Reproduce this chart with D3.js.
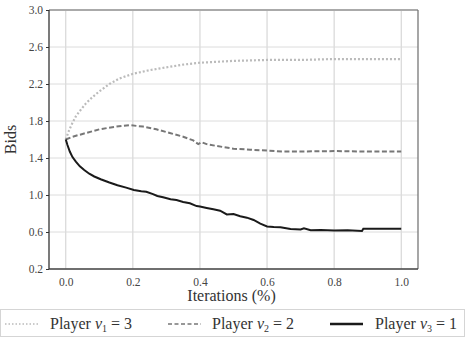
<!DOCTYPE html>
<html>
<head>
<meta charset="utf-8">
<script src="https://cdn.jsdelivr.net/npm/d3@7"></script>
<style>
  body { margin: 0; background: #fff; }
</style>
</head>
<body>
<div id="chart"></div>
<script>
// iterations (fraction) and bids per player
var iterV1 = [0, 0.01, 0.02, 0.03, 0.04, 0.06, 0.08, 0.1, 0.13, 0.16, 0.2, 0.25, 0.3, 0.35, 0.4, 0.45, 0.5, 0.6, 0.7, 0.8, 0.9, 1.0];
var bidsV1 = [1.6, 1.7, 1.78, 1.85, 1.9, 1.99, 2.06, 2.12, 2.2, 2.26, 2.31, 2.35, 2.38, 2.41, 2.43, 2.44, 2.45, 2.46, 2.46, 2.47, 2.47, 2.47];

var iterV2 = [0, 0.02, 0.05, 0.1, 0.15, 0.19, 0.23, 0.27, 0.31, 0.35, 0.38, 0.395, 0.405, 0.42, 0.45, 0.5, 0.55, 0.6, 0.65, 0.7, 0.8, 0.9, 1.0];
var bidsV2 = [1.6, 1.63, 1.66, 1.71, 1.74, 1.755, 1.74, 1.71, 1.67, 1.63, 1.59, 1.55, 1.57, 1.55, 1.53, 1.5, 1.49, 1.48, 1.47, 1.47, 1.475, 1.47, 1.47];

var iterV3 = [0, 0.005, 0.012, 0.02, 0.03, 0.042, 0.055, 0.07, 0.085, 0.104, 0.13, 0.154, 0.18, 0.203, 0.225, 0.24, 0.26, 0.273, 0.29, 0.3125, 0.33, 0.35, 0.37, 0.39, 0.4, 0.42, 0.44, 0.46, 0.48, 0.5, 0.52, 0.54, 0.56, 0.58, 0.6, 0.62, 0.64, 0.67, 0.7, 0.71, 0.73, 0.76, 0.8, 0.84, 0.883, 0.887, 0.95, 1.0];
var bidsV3 = [1.6, 1.54, 1.47, 1.41, 1.36, 1.31, 1.27, 1.23, 1.2, 1.17, 1.135, 1.105, 1.08, 1.055, 1.04, 1.035, 1.01, 0.99, 0.975, 0.955, 0.945, 0.925, 0.91, 0.88, 0.875, 0.86, 0.845, 0.83, 0.79, 0.795, 0.77, 0.755, 0.73, 0.69, 0.66, 0.655, 0.652, 0.632, 0.628, 0.64, 0.62, 0.622, 0.615, 0.618, 0.61, 0.634, 0.634, 0.634];

var xTicks = [0.0, 0.2, 0.4, 0.6, 0.8, 1.0];
var yTicks = [0.2, 0.6, 1.0, 1.4, 1.8, 2.2, 2.6, 3.0];

var FONT = "'Liberation Serif', serif";
var W = 465, H = 337;
var margin = { left: 49, right: 47, top: 10, bottom: 68 };
var width = W - margin.left - margin.right;
var height = H - margin.top - margin.bottom;

var svg = d3.select("#chart")
  .append("svg")
  .attr("width", W)
  .attr("height", H);

var g = svg.append("g")
  .attr("transform", "translate(" + margin.left + "," + margin.top + ")");

var x = d3.scaleLinear().domain([-0.05, 1.05]).range([0, width]);
var y = d3.scaleLinear().domain([0.2, 3.0]).range([height, 0]);

// grid
g.selectAll(".vgrid").data(xTicks).enter().append("line")
  .attr("x1", function (d) { return x(d); })
  .attr("x2", function (d) { return x(d); })
  .attr("y1", 0).attr("y2", height)
  .attr("stroke", "#cfcfcf").attr("stroke-width", 1);

g.selectAll(".hgrid").data(yTicks).enter().append("line")
  .attr("y1", function (d) { return y(d); })
  .attr("y2", function (d) { return y(d); })
  .attr("x1", 0).attr("x2", width)
  .attr("stroke", "#dcdcdc").attr("stroke-width", 1);

// axes
var xAxis = g.append("g")
  .attr("transform", "translate(0," + height + ")")
  .call(d3.axisBottom(x).tickValues(xTicks).tickFormat(d3.format(".1f")).tickSize(0).tickPadding(9));
var yAxis = g.append("g")
  .call(d3.axisLeft(y).tickValues(yTicks).tickFormat(d3.format(".1f")).tickSize(3).tickPadding(3));

[xAxis, yAxis].forEach(function (a) {
  a.select(".domain").remove();
  a.attr("font-family", FONT);
  a.selectAll("text").attr("fill", "#444")
    .style("font-family", FONT).style("font-size", "11.5px");
  a.selectAll("line").attr("stroke", "#333");
});

// spines
g.append("line").attr("x1", 0).attr("x2", width).attr("y1", 0).attr("y2", 0)
  .attr("stroke", "#aaa").attr("stroke-width", 2);
g.append("line").attr("x1", width).attr("x2", width).attr("y1", 0).attr("y2", height)
  .attr("stroke", "#777").attr("stroke-width", 1.3);
g.append("line").attr("x1", 0).attr("x2", width).attr("y1", height).attr("y2", height)
  .attr("stroke", "#444").attr("stroke-width", 1.3);
g.append("line").attr("x1", 0).attr("x2", 0).attr("y1", 0).attr("y2", height)
  .attr("stroke", "#333").attr("stroke-width", 1.3);

var series = [
  { it: iterV1, v: bidsV1, color: "#bbb", dash: "2,2", w: 2.2 },
  { it: iterV2, v: bidsV2, color: "#777", dash: "5,2.5", w: 2 },
  { it: iterV3, v: bidsV3, color: "#1a1a1a", dash: null, w: 2 }
];

var line = d3.line()
  .x(function (d) { return x(d[0]); })
  .y(function (d) { return y(d[1]); });

series.forEach(function (s) {
  var pts = s.it.map(function (t, i) { return [t, s.v[i]]; });
  g.append("path")
    .datum(pts)
    .attr("d", line)
    .attr("fill", "none")
    .attr("stroke", s.color)
    .attr("stroke-width", s.w)
    .attr("stroke-dasharray", s.dash);
});

// labels
g.append("text")
  .attr("x", width / 2 - 2)
  .attr("y", height + 32)
  .attr("text-anchor", "middle")
  .attr("fill", "#333")
  .style("font-family", FONT).style("font-size", "16px")
  .text("Iterations (%)");

g.append("text")
  .attr("transform", "translate(-33," + (height / 2) + ") rotate(-90)")
  .attr("text-anchor", "middle")
  .attr("fill", "#333")
  .style("font-family", FONT).style("font-size", "16px")
  .text("Bids");

// legend
var leg = svg.append("g");
leg.append("rect")
  .attr("x", 0.5).attr("y", 309.5)
  .attr("width", W - 1).attr("height", 27)
  .attr("fill", "#fff").attr("stroke", "#d5d5d5");

var legItems = [
  { x: 5, tx: 50, sub: "1", val: "3", s: series[0], dash: "1.5,2", w: 1.5 },
  { x: 168, tx: 212, sub: "2", val: "2", s: series[1], dash: "4,2.5", w: 1.5 },
  { x: 330, tx: 375, sub: "3", val: "1", s: series[2], dash: null, w: 2.5 }
];

legItems.forEach(function (d) {
  leg.append("line")
    .attr("x1", d.x).attr("x2", d.x + 33)
    .attr("y1", 324).attr("y2", 324)
    .attr("stroke", d.s.color)
    .attr("stroke-width", d.w)
    .attr("stroke-dasharray", d.dash);
  var t = leg.append("text")
    .attr("x", d.tx).attr("y", 329)
    .attr("fill", "#333")
    .style("font-family", FONT).style("font-size", "16px");
  t.append("tspan").text("Player ");
  t.append("tspan").style("font-style", "italic").text("v");
  t.append("tspan").style("font-size", "10px").attr("dy", 3).text(d.sub);
  t.append("tspan").attr("dy", -3).text(" = " + d.val);
});
</script>
</body>
</html>
